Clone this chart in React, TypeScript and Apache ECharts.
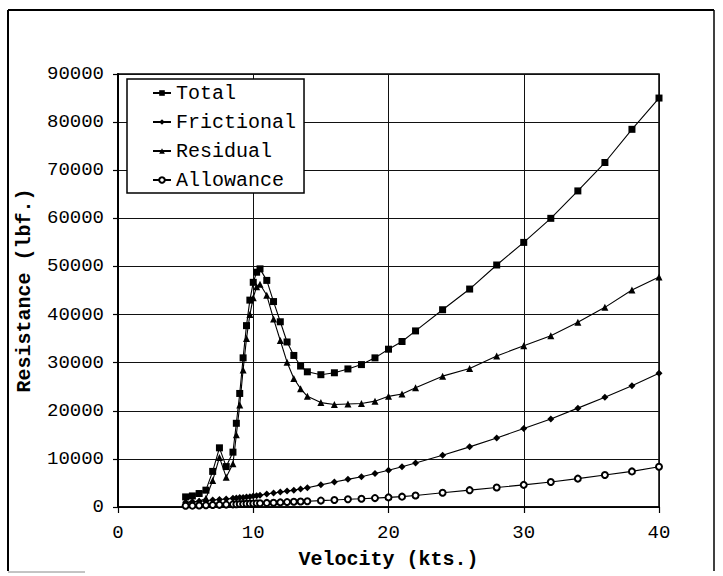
import React, { useEffect, useRef } from "react";
import * as echarts from "echarts";

const velocity = [5, 5.5, 6, 6.5, 7, 7.5, 8, 8.5, 8.75, 9, 9.25, 9.5, 9.75, 10, 10.25, 10.5, 11, 11.5, 12, 12.5, 13, 13.5, 14, 15, 16, 17, 18, 19, 20, 21, 22, 24, 26, 28, 30, 32, 34, 36, 38, 40];
const total = [2100, 2300, 2800, 3500, 7400, 12300, 8400, 11400, 17400, 23600, 31000, 37700, 43000, 46700, 48800, 49500, 47100, 42700, 38500, 34300, 31500, 29300, 28100, 27500, 27900, 28700, 29600, 31000, 32800, 34400, 36600, 41000, 45300, 50300, 55000, 60000, 65700, 71600, 78500, 85000];
const frictional = [1000, 1100, 1200, 1300, 1450, 1550, 1650, 1800, 1850, 1950, 2000, 2100, 2150, 2300, 2350, 2450, 2700, 2900, 3100, 3300, 3500, 3750, 4000, 4600, 5200, 5750, 6300, 6950, 7650, 8350, 9150, 10750, 12500, 14350, 16300, 18300, 20550, 22800, 25200, 27800];
const residual = [800, 900, 1200, 1800, 5500, 10300, 6200, 9000, 15000, 21200, 28500, 35000, 40000, 43500, 45800, 46300, 44000, 39100, 34600, 30100, 26700, 24600, 23000, 21700, 21300, 21400, 21500, 22000, 23000, 23500, 24800, 27200, 28800, 31400, 33500, 35600, 38400, 41500, 45100, 47800];
const allowance = [250, 280, 320, 360, 400, 450, 500, 550, 580, 610, 640, 670, 700, 730, 760, 790, 850, 900, 960, 1020, 1080, 1140, 1200, 1330, 1450, 1600, 1700, 1850, 2000, 2150, 2400, 2950, 3500, 4050, 4600, 5200, 5900, 6650, 7400, 8350];

const seriesNames = ["Total", "Frictional", "Residual", "Allowance"];
const seriesValues = [total, frictional, residual, allowance];
const seriesSymbols = ["rect", "diamond", "triangle", "emptyCircle"];
const seriesSymbolSizes = [7, 7, 7, 6];

const FONT = "'Liberation Mono', 'Courier New', monospace";

export default function App() {
  const ref = useRef<HTMLDivElement>(null);
  useEffect(() => {
    document.body.style.margin = "0";
    const chart = echarts.init(ref.current!, null, { renderer: "svg" });
    chart.setOption({
      animation: false,
      backgroundColor: "#fff",
      grid: {
        left: 118,
        right: 64,
        top: 74,
        bottom: 69,
        show: true,
        borderColor: "#000",
        borderWidth: 1.5,
      },
      legend: {
        data: seriesNames,
        orient: "vertical",
        left: 127,
        top: 79,
        itemWidth: 18,
        itemHeight: 7,
        itemGap: 9,
        padding: [4, 8, 3, 25],
        borderColor: "#000",
        borderWidth: 1.5,
        borderRadius: 0,
        backgroundColor: "#fff",
        textStyle: { fontFamily: FONT, fontSize: 20, color: "#000", padding: [0, 0, 0, 0] },
      },
      xAxis: {
        type: "value",
        min: 0,
        max: 40,
        interval: 10,
        name: "Velocity (kts.)",
        nameLocation: "middle",
        nameGap: 42,
        nameTextStyle: { fontFamily: FONT, fontSize: 20, fontWeight: "bold", color: "#000" },
        axisLine: { show: true, lineStyle: { color: "#000", width: 1.5 } },
        axisTick: { show: true, inside: false, length: 6, lineStyle: { color: "#000", width: 1.2 } },
        axisLabel: { fontFamily: FONT, fontSize: 19, color: "#000", margin: 16 },
        splitLine: { show: true, lineStyle: { color: "#111", width: 1 } },
      },
      yAxis: {
        type: "value",
        min: 0,
        max: 90000,
        interval: 10000,
        name: "Resistance (lbf.)",
        nameLocation: "middle",
        nameGap: 84,
        nameTextStyle: { fontFamily: FONT, fontSize: 20, fontWeight: "bold", color: "#000" },
        axisLine: { show: true, lineStyle: { color: "#000", width: 2 } },
        axisTick: { show: true, inside: false, length: 5, lineStyle: { color: "#000", width: 1.2 } },
        axisLabel: { fontFamily: FONT, fontSize: 19, color: "#000", margin: 14, formatter: (v: number) => String(v) },
        splitLine: { show: true, lineStyle: { color: "#111", width: 1 } },
      },
      series: seriesNames.map((name, k) => ({
        name,
        type: "line",
        data: velocity.map((v, i) => [v, seriesValues[k][i]]),
        symbol: seriesSymbols[k],
        symbolSize: seriesSymbolSizes[k],
        showSymbol: true,
        showAllSymbol: true,
        lineStyle: { color: "#000", width: 1.1 },
        itemStyle: { color: "#000", borderColor: "#000", borderWidth: k === 3 ? 1.3 : 0 },
        z: 3 + k,
      })),
      graphic: [
        { type: "line", shape: { x1: 8, y1: 10, x2: 8, y2: 571 }, style: { stroke: "#000", lineWidth: 2 } },
        { type: "line", shape: { x1: 8, y1: 10, x2: 714, y2: 10 }, style: { stroke: "#000", lineWidth: 2 } },
        { type: "line", shape: { x1: 714, y1: 10, x2: 714, y2: 571 }, style: { stroke: "#000", lineWidth: 1.5 } },
        { type: "line", shape: { x1: 8, y1: 572, x2: 85, y2: 572 }, style: { stroke: "#888", lineWidth: 1 } },
      ],
    });
    return () => chart.dispose();
  }, []);
  return <div ref={ref} style={{ position: "fixed", left: 0, top: 0, width: 723, height: 576 }} />;
}
